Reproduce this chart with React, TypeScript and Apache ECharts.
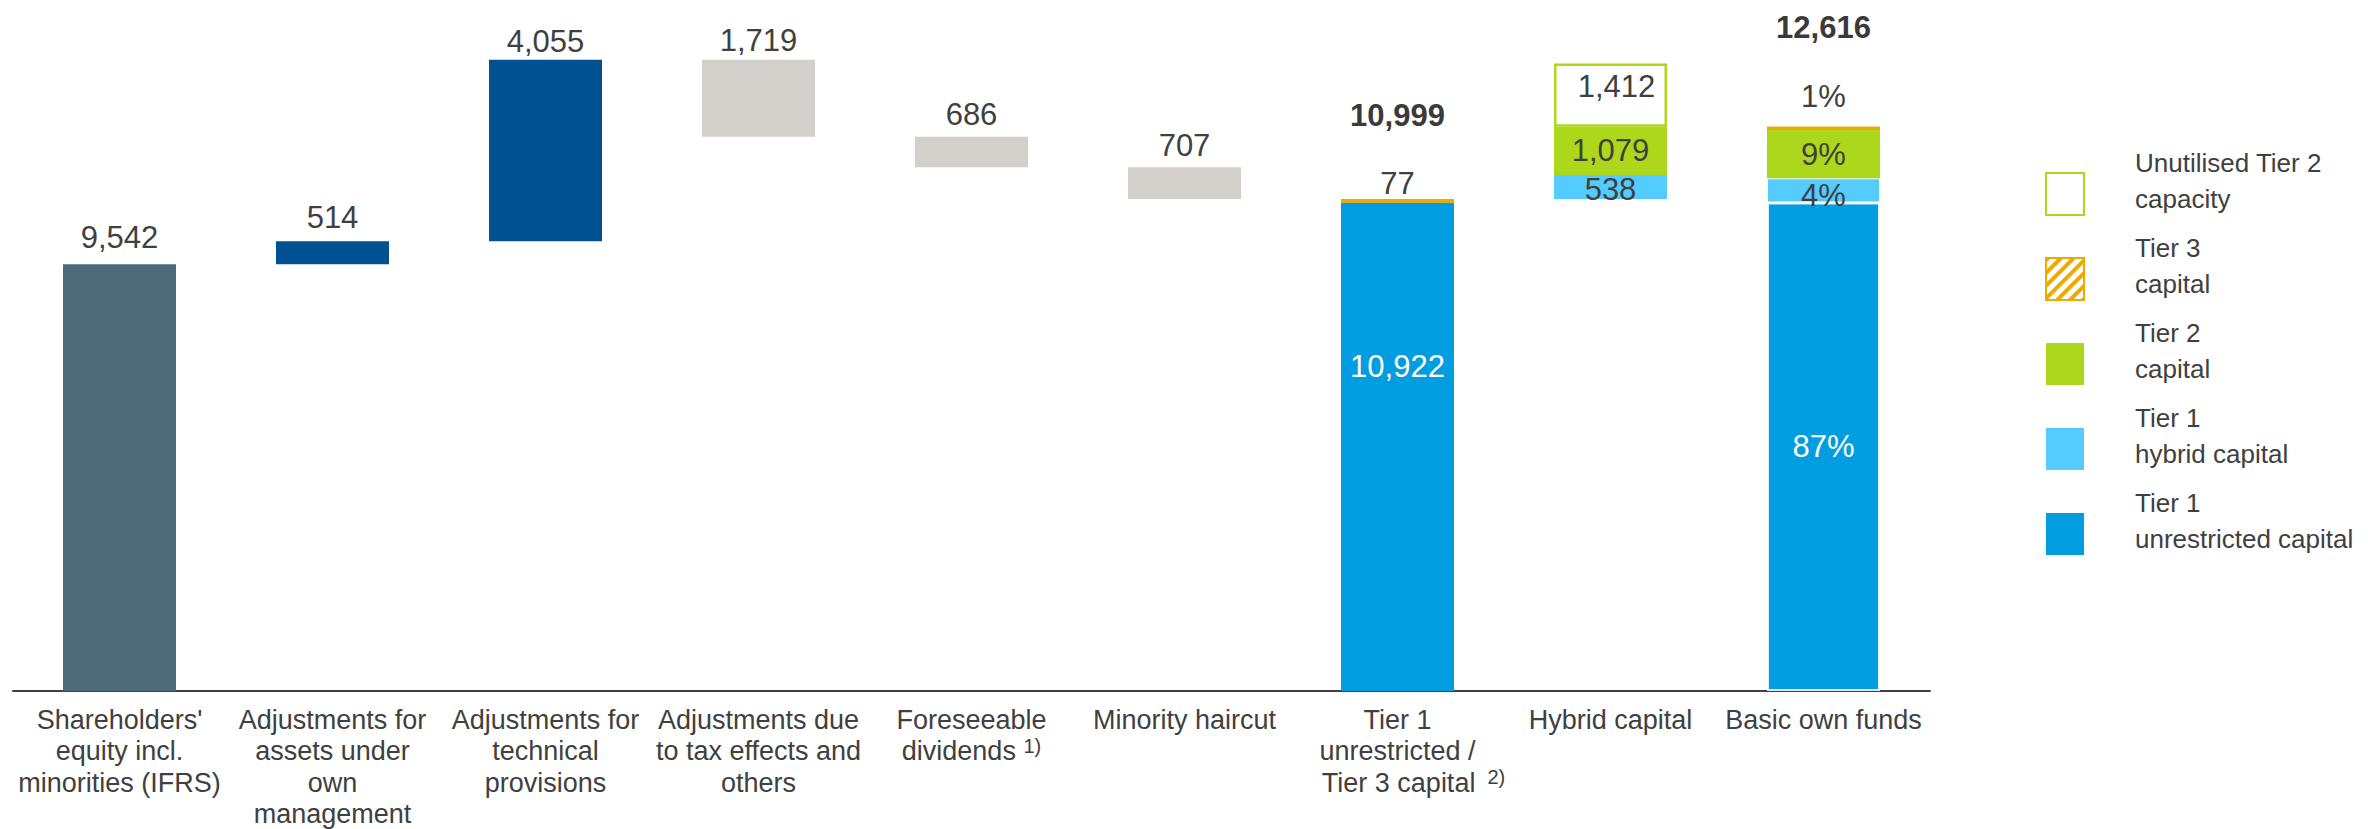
import React, { useEffect, useRef } from "react";
import * as echarts from "echarts";

// ---------- data ----------
const categories = [
  "Shareholders'\nequity incl.\nminorities (IFRS)",
  "Adjustments for\nassets under\nown\nmanagement",
  "Adjustments for\ntechnical\nprovisions",
  "Adjustments due\nto tax effects and\nothers",
  "Foreseeable\ndividends {sup|1)}",
  "Minority haircut",
  "Tier 1\nunrestricted /\n{pad| }Tier 3 capital{gap| }{sup|2)}",
  "Hybrid capital",
  "Basic own funds",
];

const shareholdersEquity = 9542;
// adjustments for categories 1..5 (positive = increase, negative = decrease)
const adjustments = [514, 4055, -1719, -686, -707];

// capital columns: [Tier 1 unrestricted / Tier 3, Hybrid capital, Basic own funds]
const tier1Unrestricted = [10922, null, 10922];
const tier3Capital = [77, null, 77];
const tier1Hybrid = [null, 538, 538];
const tier2Capital = [null, 1079, 1079];
const unutilisedTier2 = [null, 1412, null];

// shares shown for Basic own funds
const basicOwnFundsShares = { t1u: "87%", t1h: "4%", t2: "9%", t3: "1%" };

const legendNames = [
  "Unutilised Tier 2 capacity",
  "Tier 3 capital",
  "Tier 2 capital",
  "Tier 1 hybrid capital",
  "Tier 1 unrestricted capital",
];
const legendLabels: Record<string, string> = {
  "Unutilised Tier 2 capacity": "Unutilised Tier 2\ncapacity",
  "Tier 3 capital": "Tier 3\ncapital",
  "Tier 2 capital": "Tier 2\ncapital",
  "Tier 1 hybrid capital": "Tier 1\nhybrid capital",
  "Tier 1 unrestricted capital": "Tier 1\nunrestricted capital",
};

// ---------- styles ----------
const FONT = "'Liberation Sans', Arial, Helvetica, sans-serif";
const TEXT = "#404040";
const C_EQUITY = "#4D6A79";
const C_INC = "#005192";
const C_DEC = "#D3D0CB";
const C_T1U = "#009EE0";
const C_T1H = "#55CCFF";
const C_T2 = "#ADD71A";
const C_T3 = "#EFAA00";
const VAL_SIZE = 31;
// label distances above the adjustment bars (index = adjustment position)
const adjLabelDistance = [8, 3, 4, 7, 6];
// legend icon: square in the lower part of a taller box (so text sits a bit higher)
const LEGEND_ICON = "path://M0,0L0.01,0ZM0,26L38,26L38,68L0,68Z";

const fmt = (v: number) => v.toLocaleString("en-US");

function buildOption() {
  const n = categories.length;
  const blank = () => new Array(n).fill("-") as any[];

  const base = blank();
  const equity = blank();
  const inc = blank();
  const dec = blank();
  base[0] = 0;
  equity[0] = shareholdersEquity;
  let running = shareholdersEquity;
  adjustments.forEach((d, k) => {
    const i = k + 1;
    const item = (v: number) => ({ value: v, label: { distance: adjLabelDistance[k] } });
    if (d >= 0) {
      base[i] = running;
      inc[i] = item(d);
    } else {
      base[i] = running + d;
      dec[i] = item(-d);
    }
    running += d;
  });

  const colIdx = [6, 7, 8];
  const t1uTotal = (tier1Unrestricted[0] || 0) + (tier3Capital[0] || 0);
  base[6] = 0;
  base[7] = t1uTotal;
  base[8] = 0;

  const t1u = blank();
  const t3 = blank();
  const t1h = blank();
  const t2 = blank();
  const un = blank();

  const valueLabel = {
    color: TEXT,
    fontFamily: FONT,
    fontSize: VAL_SIZE,
  };

  colIdx.forEach((ci, k) => {
    if (tier1Unrestricted[k] != null) {
      const v = tier1Unrestricted[k] as number;
      t1u[ci] =
        k === 2
          ? {
              value: v,
              itemStyle: { borderColor: "rgba(255,255,255,0.85)", borderWidth: 2 },
              label: { show: true, position: "inside", color: "#fff", formatter: basicOwnFundsShares.t1u },
            }
          : { value: v, label: { show: true, position: "inside", color: "#fff", offset: [0, -80], formatter: fmt(v) } };
    }
    if (tier3Capital[k] != null) {
      const v = tier3Capital[k] as number;
      t3[ci] = {
        value: v,
        label: {
          show: true,
          position: "top",
          distance: k === 2 ? 15 : 0,
          formatter: k === 2 ? basicOwnFundsShares.t3 : fmt(v),
        },
      };
    }
    if (tier1Hybrid[k] != null) {
      const v = tier1Hybrid[k] as number;
      t1h[ci] = {
        value: v,
        itemStyle: k === 2 ? { borderColor: "rgba(255,255,255,0.85)", borderWidth: 1 } : undefined,
        label: {
          show: true,
          position: "inside",
          offset: [0, k === 2 ? 5 : 3],
          formatter: k === 2 ? basicOwnFundsShares.t1h : fmt(v),
        },
      };
    }
    if (tier2Capital[k] != null) {
      const v = tier2Capital[k] as number;
      t2[ci] = {
        value: v,
        label: { show: true, position: "inside", formatter: k === 2 ? basicOwnFundsShares.t2 : fmt(v) },
      };
    }
    if (unutilisedTier2[k] != null) {
      const v = unutilisedTier2[k] as number;
      un[ci] = {
        value: v,
        label: { show: true, position: "inside", offset: [6, -9], formatter: fmt(v) },
      };
    }
  });

  // totals above the capital columns
  const totals = blank();
  const tot7 = t1uTotal;
  const tot9 =
    (tier1Unrestricted[2] || 0) + (tier1Hybrid[2] || 0) + (tier2Capital[2] || 0) + (tier3Capital[2] || 0);
  totals[6] = { value: tot7, label: { distance: 68 } };
  totals[8] = { value: tot9, label: { distance: 84 } };

  const barCommon = {
    type: "bar",
    stack: "w",
    barWidth: 113,
    barGap: "0%",
  };

  return {
    animation: false,
    backgroundColor: "#ffffff",
    textStyle: { fontFamily: FONT, color: TEXT },
    grid: { left: 13, top: 20, width: 1917, height: 671, containLabel: false, outerBoundsMode: "none" },
    legend: {
      data: legendNames,
      orient: "vertical",
      left: 2040,
      top: 140,
      itemWidth: 38,
      itemHeight: 68,
      itemGap: 13,
      icon: LEGEND_ICON,
      symbolKeepAspect: false,
      selectedMode: false,
      formatter: (name: string) => legendLabels[name] || name,
      textStyle: {
        fontFamily: FONT,
        fontSize: 26,
        lineHeight: 36,
        color: TEXT,
        padding: [0, 0, 0, 46],
      },
    },
    xAxis: {
      type: "category",
      data: categories,
      axisLine: { show: true, lineStyle: { color: "#404040", width: 2 } },
      axisTick: { show: false },
      axisLabel: {
        interval: 0,
        color: TEXT,
        fontFamily: FONT,
        fontSize: 27,
        lineHeight: 31.5,
        margin: 13,
        rich: {
          sup: { fontSize: 20, lineHeight: 10, verticalAlign: "top", color: TEXT, fontFamily: FONT },
          pad: { width: 32, fontSize: 27, lineHeight: 31.5 },
          gap: { width: 12, fontSize: 27, lineHeight: 31.5 },
        },
      },
    },
    yAxis: {
      type: "value",
      min: 0,
      max: 15000,
      show: false,
      splitLine: { show: false },
    },
    series: [
      {
        ...barCommon,
        name: "base",
        data: base,
        silent: true,
        itemStyle: { color: "rgba(0,0,0,0)" },
        label: { show: false },
      },
      {
        ...barCommon,
        name: "Shareholders' equity",
        data: equity,
        itemStyle: { color: C_EQUITY },
        label: { show: true, position: "top", distance: 11, ...valueLabel, formatter: (p: any) => fmt(p.value) },
      },
      {
        ...barCommon,
        name: "Increase",
        data: inc,
        itemStyle: { color: C_INC },
        label: { show: true, position: "top", ...valueLabel, formatter: (p: any) => fmt(p.value) },
      },
      {
        ...barCommon,
        name: "Decrease",
        data: dec,
        itemStyle: { color: C_DEC },
        label: { show: true, position: "top", ...valueLabel, formatter: (p: any) => fmt(p.value) },
      },
      {
        ...barCommon,
        name: "Tier 1 unrestricted capital",
        data: t1u,
        itemStyle: { color: C_T1U },
        label: { ...valueLabel, color: "#fff" },
      },
      {
        ...barCommon,
        name: "Tier 1 hybrid capital",
        data: t1h,
        itemStyle: { color: C_T1H },
        label: { ...valueLabel },
      },
      {
        ...barCommon,
        name: "Tier 2 capital",
        data: t2,
        itemStyle: { color: C_T2 },
        label: { ...valueLabel },
      },
      {
        ...barCommon,
        name: "Tier 3 capital",
        data: t3,
        itemStyle: {
          color: "#ffffff",
          borderColor: C_T3,
          borderWidth: 2,
          decal: {
            symbol: "rect",
            symbolSize: 1,
            symbolKeepAspect: false,
            color: C_T3,
            dashArrayX: [1, 0],
            dashArrayY: [4, 5],
            rotation: -Math.PI / 4,
          },
        },
        label: { ...valueLabel },
      },
      {
        ...barCommon,
        name: "Unutilised Tier 2 capacity",
        data: un,
        itemStyle: { color: "#ffffff", borderColor: C_T2, borderWidth: 2.5 },
        label: { ...valueLabel },
      },
      {
        type: "scatter",
        name: "totals",
        data: totals,
        symbolSize: 0,
        silent: true,
        itemStyle: { opacity: 1 },
        label: {
          show: true,
          position: "top",
          color: "#3a3a3a",
          opacity: 1,
          fontFamily: FONT,
          fontSize: VAL_SIZE,
          fontWeight: "bold",
          formatter: (p: any) => fmt(p.value),
        },
      },
    ],
  };
}

export default function App() {
  const ref = useRef<HTMLDivElement>(null);
  useEffect(() => {
    if (!ref.current) return;
    const chart = echarts.init(ref.current, undefined, { renderer: "svg" });
    chart.setOption(buildOption() as any);
    return () => chart.dispose();
  }, []);
  return (
    <div
      ref={ref}
      style={{ position: "absolute", left: 0, top: 0, width: 2368, height: 829, background: "#fff" }}
    />
  );
}
